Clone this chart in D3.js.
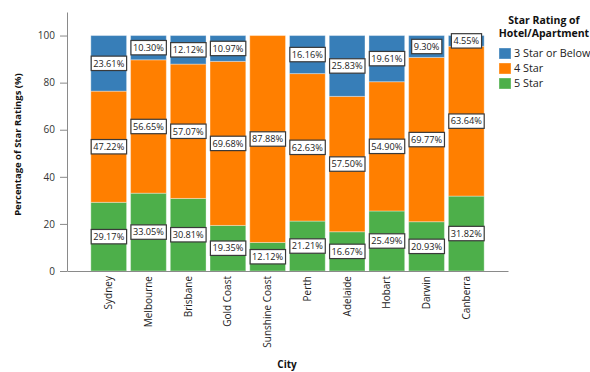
<!DOCTYPE html>
<html>
<head>
<meta charset="utf-8">
<script src="https://cdn.jsdelivr.net/npm/d3@7"></script>
<style>
  html, body { margin: 0; padding: 0; background: #fff; }
  svg { display: block; font-family: "Open Sans", sans-serif; }
</style>
</head>
<body>
<svg id="chart" width="590" height="372"></svg>
<script>
// Share of hotel/apartment star ratings by city (%)
const cities = ["Sydney", "Melbourne", "Brisbane", "Gold Coast", "Sunshine Coast",
                "Perth", "Adelaide", "Hobart", "Darwin", "Canberra"];
const fiveStar  = [29.17, 33.05, 30.81, 19.35, 12.12, 21.21, 16.67, 25.49, 20.93, 31.82];
const fourStar  = [47.22, 56.65, 57.07, 69.68, 87.88, 62.63, 57.50, 54.90, 69.77, 63.64];
const threeStar = [23.61, 10.30, 12.12, 10.97, 0,     16.16, 25.83, 19.61,  9.30,  4.55];
const seriesNames = ["5 Star", "4 Star", "3 Star or Below"];
const seriesColors = ["#4daf4a", "#ff7f00", "#377eb8"];
const yTicks = [0, 20, 40, 60, 80, 100];

const rows = cities.map((c, i) => ({
  city: c,
  "5 Star": fiveStar[i],
  "4 Star": fourStar[i],
  "3 Star or Below": threeStar[i]
}));

const svg = d3.select("#chart");
const plot = { left: 67, right: 508, top: 12, bottom: 271 };

const x = d3.scaleBand()
  .domain(cities)
  .range([plot.left, plot.right])
  .paddingInner(0.1)
  .paddingOuter(0.6);

const y = d3.scaleLinear()
  .domain([0, 110])
  .range([plot.bottom, plot.top]);

const color = d3.scaleOrdinal().domain(seriesNames).range(seriesColors);

const stacked = d3.stack().keys(seriesNames)(rows);

// bars
const layers = svg.append("g").selectAll("g")
  .data(stacked)
  .join("g")
  .attr("fill", d => color(d.key));

layers.selectAll("rect")
  .data(d => d.map(p => ({ key: d.key, p })))
  .join("rect")
  .filter(d => d.p[1] - d.p[0] > 0)
  .attr("x", d => x(d.p.data.city))
  .attr("width", x.bandwidth())
  .attr("y", d => y(d.p[1]))
  .attr("height", d => y(d.p[0]) - y(d.p[1]))
  .attr("stroke", "#ffffff")
  .attr("stroke-opacity", 0.35)
  .attr("stroke-width", 1);

// axes
const yAxis = d3.axisLeft(y).tickValues(yTicks).tickSize(7).tickSizeOuter(0).tickPadding(5);
const gy = svg.append("g")
  .attr("transform", `translate(${plot.left},0)`)
  .call(yAxis);
gy.select(".domain").attr("stroke", "#8a8a8a");
gy.selectAll(".tick line").attr("stroke", "#8a8a8a");
gy.selectAll(".tick text")
  .attr("fill", "#333")
  .style("font-size", "10px")
  .style("font-family", "Open Sans, sans-serif");

const xAxis = d3.axisBottom(x).tickSize(0).tickSizeOuter(0);
const gx = svg.append("g")
  .attr("transform", `translate(0,${plot.bottom})`)
  .call(xAxis);
gx.select(".domain").attr("stroke", "#8a8a8a");
gx.selectAll(".tick text")
  .attr("fill", "#222")
  .style("font-size", "10px")
  .style("font-family", "Open Sans, sans-serif")
  .attr("text-anchor", "end")
  .attr("dy", "0.35em")
  .attr("transform", "translate(0,5) rotate(-90)")
  .attr("x", 0)
  .attr("y", 0);

// value labels
const labelData = [];
stacked.forEach(layer => {
  layer.forEach(p => {
    const v = p[1] - p[0];
    if (v > 0) labelData.push({ city: p.data.city, v, mid: (p[0] + p[1]) / 2 });
  });
});

const labels = svg.append("g").selectAll("g")
  .data(labelData)
  .join("g")
  .attr("transform", d => `translate(${x(d.city) + x.bandwidth() / 2},${y(d.mid)})`);

labels.append("text")
  .attr("text-anchor", "middle")
  .attr("dy", "0.35em")
  .attr("fill", "#222")
  .style("font-size", "9.2px")
  .text(d => d.v.toFixed(2) + "%");

labels.each(function () {
  const g = d3.select(this);
  const bb = g.select("text").node().getBBox();
  g.insert("rect", "text")
    .attr("x", bb.x - 2)
    .attr("y", -7.2)
    .attr("width", bb.width + 4)
    .attr("height", 14.4)
    .attr("fill", "#fff")
    .attr("stroke", "#3a3a3a")
    .attr("stroke-width", 1.2);
});

// axis titles
svg.append("text")
  .attr("transform", `translate(21,${(plot.top + plot.bottom) / 2 + 3}) rotate(-90)`)
  .attr("text-anchor", "middle")
  .attr("font-weight", "bold")
  .style("font-size", "9.5px")
  .attr("fill", "#111")
  .text("Percentage of Star Ratings (%)");

svg.append("text")
  .attr("x", 287)
  .attr("y", 368)
  .attr("text-anchor", "middle")
  .attr("font-weight", "bold")
  .style("font-size", "10px")
  .attr("fill", "#111")
  .text("City");

// legend
const legend = svg.append("g");
legend.append("text")
  .attr("x", 544).attr("y", 23.5)
  .attr("text-anchor", "middle")
  .attr("font-weight", "bold")
  .style("font-size", "10.5px")
  .attr("fill", "#111")
  .text("Star Rating of");
legend.append("text")
  .attr("x", 544).attr("y", 36.5)
  .attr("text-anchor", "middle")
  .attr("font-weight", "bold")
  .style("font-size", "10.5px")
  .attr("fill", "#111")
  .text("Hotel/Apartment");

const legendOrder = ["3 Star or Below", "4 Star", "5 Star"];
const items = legend.selectAll("g.item")
  .data(legendOrder)
  .join("g")
  .attr("class", "item")
  .attr("transform", (d, i) => `translate(499,${48 + i * 15})`);
items.append("rect")
  .attr("width", 12).attr("height", 11)
  .attr("fill", d => color(d))
  .attr("stroke", "#fff").attr("stroke-opacity", 0.35);
items.append("text")
  .attr("x", 15).attr("y", 5.5).attr("dy", "0.35em")
  .style("font-size", "10.8px")
  .attr("fill", "#222")
  .text(d => d);
</script>
</body>
</html>
